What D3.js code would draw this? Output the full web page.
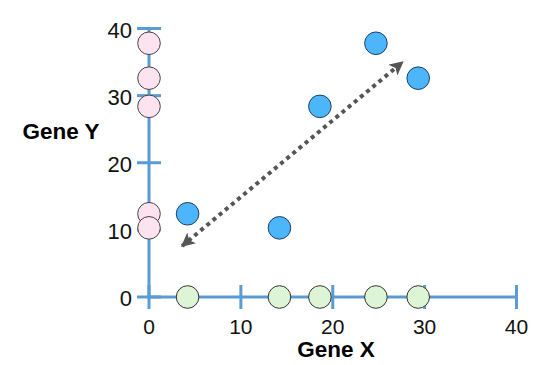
<!DOCTYPE html>
<html><head><meta charset="utf-8">
<script src="https://cdn.jsdelivr.net/npm/d3@7"></script>
<style>html,body{margin:0;padding:0;background:#fff;}svg{display:block;}</style>
</head><body>
<svg id="chart" width="538" height="365"></svg>
<script>
// Data
const xTicks = [0, 10, 20, 30, 40];
const yTicks = [0, 10, 20, 30, 40];
const geneX = [4.2, 14.2, 18.6, 24.7, 29.3];
const geneY = [12.4, 10.3, 28.4, 37.8, 32.6];
const trendLine = [[3.6, 7.6], [27.6, 35.0]];
const xLabel = "Gene X";
const yLabel = "Gene Y";

const svg = d3.select("#chart");
const x = d3.scaleLinear().domain([0, 40]).range([149, 516.5]);
const y = d3.scaleLinear().domain([0, 40]).range([297, 28.5]);
const axisColor = "#5b9bd5";
const font = "'Liberation Sans', Arial, Helvetica, sans-serif";

// axes lines
svg.append("line").attr("x1", x(0)).attr("x2", x(40)).attr("y1", y(0)).attr("y2", y(0))
  .attr("stroke", axisColor).attr("stroke-width", 3);
svg.append("line").attr("x1", x(0)).attr("x2", x(0)).attr("y1", y(0)).attr("y2", y(40))
  .attr("stroke", axisColor).attr("stroke-width", 3);

// ticks
svg.selectAll(".xt").data(xTicks).join("line")
  .attr("x1", d => x(d)).attr("x2", d => x(d)).attr("y1", y(0) - 12).attr("y2", y(0) + 12)
  .attr("stroke", axisColor).attr("stroke-width", 3);
svg.selectAll(".yt").data(yTicks).join("line")
  .attr("y1", d => y(d)).attr("y2", d => y(d)).attr("x1", x(0) - 12).attr("x2", x(0) + 12)
  .attr("stroke", axisColor).attr("stroke-width", 3);

// tick labels
svg.selectAll(".xl").data(xTicks).join("text")
  .attr("x", d => x(d)).attr("y", y(0) + 37).attr("text-anchor", "middle")
  .attr("font-family", font).attr("font-size", 21).attr("fill", "#111").text(d => d);
svg.selectAll(".yl").data(yTicks).join("text")
  .attr("x", x(0) - 17).attr("y", d => y(d) + 9).attr("text-anchor", "end")
  .attr("font-family", font).attr("font-size", 22).attr("fill", "#111").text(d => d);

// axis titles
svg.append("text").attr("x", 336).attr("y", 357).attr("text-anchor", "middle")
  .attr("font-family", font).attr("font-weight", "bold").attr("font-size", 22.5).attr("fill", "#000").text(xLabel);
svg.append("text").attr("x", 61).attr("y", 138.5).attr("text-anchor", "middle")
  .attr("font-family", font).attr("font-weight", "bold").attr("font-size", 22.5).attr("fill", "#000").text(yLabel);

// arrow markers
const defs = svg.append("defs");
defs.append("marker").attr("id", "ah").attr("viewBox", "0 0 10 10").attr("refX", 9).attr("refY", 5)
  .attr("markerWidth", 14).attr("markerHeight", 14).attr("markerUnits", "userSpaceOnUse")
  .attr("orient", "auto-start-reverse")
  .append("path").attr("d", "M0,0 L10,5 L0,10 L2.5,5 Z").attr("fill", "#555");

const r = 11.3;
// green points on x axis
svg.selectAll(".gx").data(geneX).join("circle")
  .attr("cx", d => x(d)).attr("cy", y(0)).attr("r", r)
  .attr("fill", "#ddf5d5").attr("stroke", "#333").attr("stroke-width", 1);
// pink points on y axis
svg.selectAll(".gy").data(geneY).join("circle")
  .attr("cx", x(0)).attr("cy", d => y(d)).attr("r", r)
  .attr("fill", "#fde2f0").attr("stroke", "#444").attr("stroke-width", 1);
// blue points
svg.selectAll(".bp").data(d3.zip(geneX, geneY)).join("circle")
  .attr("cx", d => x(d[0])).attr("cy", d => y(d[1])).attr("r", r)
  .attr("fill", "#4db6fb").attr("stroke", "#1d3f66").attr("stroke-width", 1);

// trend arrow
svg.append("line")
  .attr("x1", x(trendLine[0][0])).attr("y1", y(trendLine[0][1]))
  .attr("x2", x(trendLine[1][0])).attr("y2", y(trendLine[1][1]))
  .attr("stroke", "#555").attr("stroke-width", 4).attr("stroke-dasharray", "4,4")
  .attr("marker-start", "url(#ah)").attr("marker-end", "url(#ah)");
</script>
</body></html>
